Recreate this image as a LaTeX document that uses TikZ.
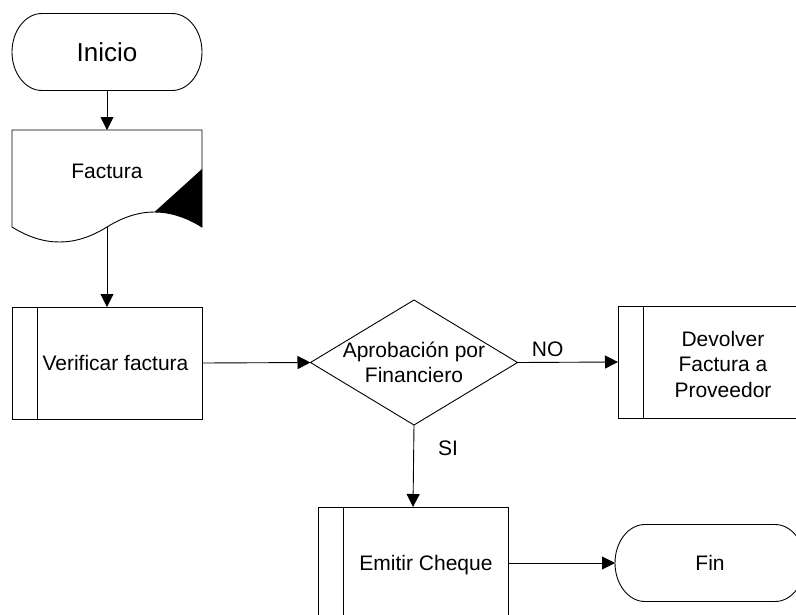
\documentclass[tikz,border=0pt]{standalone}
\usepackage{fontspec}
\setmainfont{Liberation Sans}
\usetikzlibrary{arrows.meta}

% outline of a terminal (start / end) with elliptical ends
\newcommand\drawterminal[1]{%
  \draw[line] ([xshift=30pt]#1.north west) -- ([xshift=-30pt]#1.north east)
    arc[start angle=90,end angle=-90,x radius=30pt,y radius=38.5pt]
    -- ([xshift=30pt]#1.south west)
    arc[start angle=270,end angle=90,x radius=30pt,y radius=38.5pt] -- cycle;}

\begin{document}
\begin{tikzpicture}[x=1pt,y=1pt,
  line/.style={draw=black, line width=0.9pt},
  arr/.style={line, -{Triangle[length=13pt,width=13pt]}},
  txt/.style={font=\fontsize{21}{25.5}\selectfont, align=center, inner sep=0pt},
  termframe/.style={txt, minimum width=190pt, minimum height=77pt, outer sep=0pt},
  docframe/.style={minimum width=190pt, minimum height=97pt, inner sep=0pt, outer sep=0pt},
  subbox/.style={line, minimum width=190pt, minimum height=112pt, inner sep=0pt, outer sep=0pt,
    path picture={\draw[line] ([xshift=25pt]path picture bounding box.north west)
      -- ([xshift=25pt]path picture bounding box.south west);}},
  decframe/.style={txt, minimum width=207pt, minimum height=125pt, outer sep=0pt},
]
\useasboundingbox (0,0) rectangle (796,-614);
\clip (0,0) rectangle (796,-614);

% start
\node[termframe, font=\fontsize{26}{30}\selectfont] (ini) at (107,-52) {Inicio};
\drawterminal{ini}

% document: invoice
\node[docframe] (fac) at (107,-178.5) {};
\begin{scope}[shift={(fac.center)}]
  \draw[line] (-95,48.5) -- (95,48.5) -- (95,-48.5)
    .. controls (79,-38.5) and (63.25,-33.5) .. (47.5,-33.5)
    .. controls (31.75,-33.5) and (16,-38.5) .. (0,-48.5)
    .. controls (-32,-68.5) and (-63,-68.5) .. (-95,-48.5) -- cycle;
  \fill[black] (47.5,-33.5) -- (95,9.5) -- (95,-48.5)
    .. controls (79,-38.5) and (63.25,-33.5) .. (47.5,-33.5) -- cycle;
\end{scope}
\node[txt] (fac-t) at (107,-171) {Factura};

% predefined processes
\node[subbox] (ver) at (107,-363) {};
\node[txt] (ver-t) at (115.5,-363) {Verificar factura};

\node[subbox, minimum width=186pt] (dev) at (711,-362) {};
\node[txt] (dev-t) at (723,-364) {Devolver\\Factura a\\Proveedor};

\node[subbox] (emi) at (413,-563) {};
\node[txt] (emi-t) at (426,-565) {Emitir Cheque};

% decision
\node[decframe] (dec) at (414,-362.5) {Aprobación por\\Financiero};
\draw[line] (dec.west) -- (dec.north) -- (dec.east) -- (dec.south) -- cycle;

% end
\node[termframe] (fin) at (710,-563) {Fin};
\drawterminal{fin}

% connectors
\draw[arr] (ini.south) -- (fac.north);
\draw[arr] (fac.south) -- (ver.north);
\draw[arr] (ver.east) -- (dec.west);
\draw[arr] (dec.east) -- node[txt, pos=0.3, above=5pt] (lno) {NO} (dev.west);
\draw[arr] (dec.south) -- node[txt, pos=0.28, anchor=west, xshift=24pt] (lsi) {SI} (emi.north);
\draw[arr] (emi.east) -- (fin.west);
\end{tikzpicture}
\end{document}
